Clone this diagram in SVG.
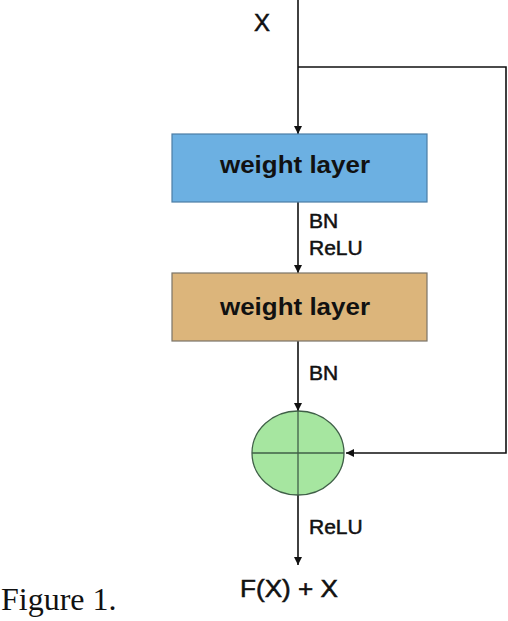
<svg xmlns="http://www.w3.org/2000/svg" width="508" height="621" viewBox="0 0 508 621">
<style>
.lbl{font-family:"Liberation Sans",Arial,sans-serif;font-size:21px;fill:#111;stroke:#111;stroke-width:0.5}
.box-t{font-family:"Liberation Sans",Arial,sans-serif;font-size:23px;font-weight:bold;fill:#111;text-anchor:middle}
.ln{stroke:#111;stroke-width:1.6;fill:none}
</style>
<defs>
<marker id="ah" viewBox="0 0 10 10" refX="10" refY="5" markerWidth="8" markerHeight="8" markerUnits="userSpaceOnUse" orient="auto">
<path d="M0,0 L10,5 L0,10 z" fill="#111"/>
</marker>
</defs>
<rect width="508" height="621" fill="#fff"/>
<g id="connectors">
<line class="ln" x1="298" y1="0" x2="298" y2="134" marker-end="url(#ah)"/>
<polyline class="ln" points="298,67 506,67 506,453 346,453" marker-end="url(#ah)"/>
<line class="ln" x1="298" y1="202" x2="298" y2="273" marker-end="url(#ah)"/>
<line class="ln" x1="298" y1="341" x2="298" y2="411" marker-end="url(#ah)"/>
<line class="ln" x1="298" y1="495" x2="298" y2="565" marker-end="url(#ah)"/>
</g>
<g id="input">
<text class="lbl" x="254" y="31" style="font-size:24px">X</text>
</g>
<g id="weight1">
<rect x="172" y="134" width="255" height="68" fill="#6cb0e2" stroke="#4c7ea6" stroke-width="1.2"/>
<text class="box-t" x="295" y="173" textLength="150" lengthAdjust="spacingAndGlyphs">weight layer</text>
</g>
<g id="label1">
<text class="lbl" x="309" y="228">BN</text>
<text class="lbl" x="309" y="255">ReLU</text>
</g>
<g id="weight2">
<rect x="172" y="273" width="255" height="68" fill="#dcb57b" stroke="#7a7468" stroke-width="1.2"/>
<text class="box-t" x="295" y="315" textLength="150" lengthAdjust="spacingAndGlyphs">weight layer</text>
</g>
<g id="label2">
<text class="lbl" x="309" y="380">BN</text>
</g>
<g id="sum">
<ellipse cx="298" cy="453" rx="46" ry="42" fill="#a6e6a0" stroke="#3f5f47" stroke-width="1.3"/>
<line x1="298" y1="411" x2="298" y2="495" stroke="#3f5f47" stroke-width="1.3"/>
<line x1="252" y1="453" x2="344" y2="453" stroke="#3f5f47" stroke-width="1.3"/>
</g>
<g id="label3">
<text class="lbl" x="309" y="534">ReLU</text>
</g>
<g id="output">
<text class="lbl" x="240" y="597" style="font-size:23px" textLength="98" lengthAdjust="spacingAndGlyphs">F(X) + X</text>
</g>
<g id="caption">
<text x="1" y="610" font-family="'Liberation Serif','Times New Roman',serif" font-size="32" fill="#111">Figure 1.</text>
</g>
</svg>
